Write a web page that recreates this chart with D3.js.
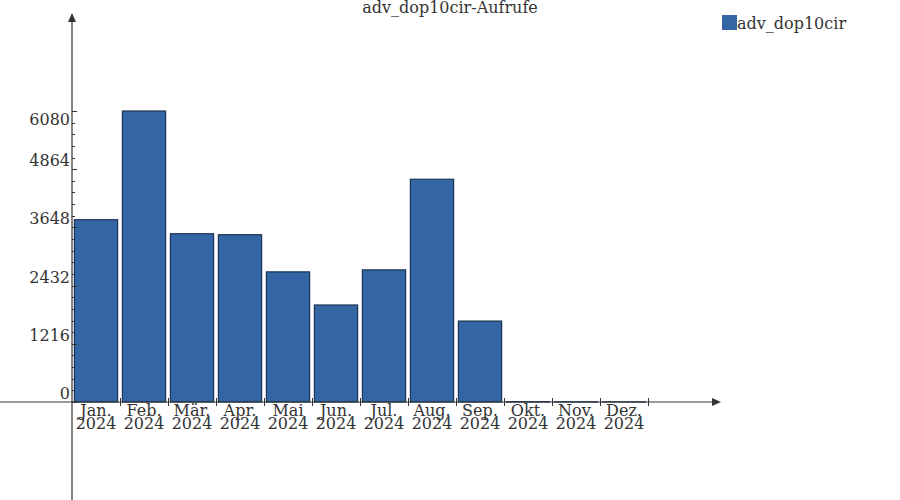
<!DOCTYPE html>
<html><head><meta charset="utf-8">
<script src="https://cdn.jsdelivr.net/npm/d3@7"></script>
<style>body{margin:0;background:#fff}svg{display:block}</style>
</head><body>
<svg id="c" width="900" height="500"></svg>
<script>
const months = ["Jan.","Feb.","Mär.","Apr.","Mai","Jun.","Jul.","Aug.","Sep.","Okt.","Nov.","Dez."];
const years = ["2024","2024","2024","2024","2024","2024","2024","2024","2024","2024","2024","2024"];
const values = [3809, 6080, 3516, 3495, 2719, 2027, 2761, 4654, 1691, 6, 4, 3];
const yTicks = [0, 1216, 2432, 3648, 4864, 6080];
const seriesName = "adv_dop10cir";
const title = "adv_dop10cir-Aufrufe";

const svg = d3.select("#c");
const font = "DejaVu Serif";
const ink = "#333333";
const x0 = 72, x1 = 648, yZero = 402, yMaxPx = 111;

const x = d3.scaleBand().domain(d3.range(months.length)).range([x0, x1]).paddingInner(0.1).paddingOuter(0.05);
const y = d3.scaleLinear().domain([0, 6080]).range([yZero, yMaxPx]);

// bars
svg.append("g").selectAll("rect").data(values).join("rect")
  .attr("x", (d,i) => x(i))
  .attr("width", x.bandwidth())
  .attr("y", d => y(d))
  .attr("height", d => yZero - y(d))
  .attr("fill", "#3465a4")
  .attr("stroke", "#1b3454")
  .attr("stroke-width", 1.2);

// y axis line + arrow
svg.append("line").attr("x1", x0).attr("x2", x0).attr("y1", 18).attr("y2", 500)
  .attr("stroke", ink).attr("stroke-width", 1.2);
svg.append("path").attr("d", `M${x0-4},22 L${x0},13 L${x0+4},22 Z`).attr("fill", ink);

// x axis line + arrow
svg.append("line").attr("x1", 0).attr("x2", 715).attr("y1", yZero).attr("y2", yZero)
  .attr("stroke", ink).attr("stroke-width", 1.2);
svg.append("path").attr("d", `M712,${yZero-4} L721,${yZero} L712,${yZero+4} Z`).attr("fill", ink);

// y ticks (major + minor)
const minor = d3.range(0, 6080, 1216/5).filter(v => !yTicks.includes(Math.round(v)));
svg.append("g").selectAll("line").data(minor).join("line")
  .attr("x1", x0).attr("x2", x0+3).attr("y1", d => Math.round(y(d))+0.5).attr("y2", d => Math.round(y(d))+0.5)
  .attr("stroke", ink).attr("stroke-width", 1);
svg.append("g").selectAll("line").data(yTicks).join("line")
  .attr("x1", x0).attr("x2", x0+5).attr("y1", d => Math.round(y(d))+0.5).attr("y2", d => Math.round(y(d))+0.5)
  .attr("stroke", ink).attr("stroke-width", 1);
svg.append("g").selectAll("text").data(yTicks).join("text")
  .attr("x", x0-2)
  .attr("y", (d,i) => i === yTicks.length-1 ? y(d)+14 : y(d)-3)
  .attr("text-anchor", "end")
  .attr("font-family", font).attr("font-size", 16).attr("fill", ink)
  .text(d => d);

// x ticks at band boundaries
const bounds = d3.range(1, months.length+1).map(i => x0 + i*(x1-x0)/months.length);
svg.append("g").selectAll("line").data(bounds).join("line")
  .attr("x1", d => Math.round(d)+0.5).attr("x2", d => Math.round(d)+0.5)
  .attr("y1", yZero-4).attr("y2", yZero+4)
  .attr("stroke", ink).attr("stroke-width", 1);

// x labels (two lines, tightly spaced as in the reference)
const xl = svg.append("g").selectAll("text").data(months).join("text")
  .attr("text-anchor", "middle")
  .attr("font-family", font).attr("font-size", 16).attr("fill", ink);
xl.append("tspan").attr("x", (d,i) => x(i) + x.bandwidth()/2).attr("y", 416).text(d => d);
xl.append("tspan").attr("x", (d,i) => x(i) + x.bandwidth()/2).attr("y", 429).text((d,i) => years[i]);

// title
svg.append("text").attr("x", 450).attr("y", 13).attr("text-anchor", "middle")
  .attr("font-family", font).attr("font-size", 16).attr("fill", ink).text(title);

// legend
svg.append("rect").attr("x", 722).attr("y", 15).attr("width", 15).attr("height", 15).attr("fill", "#3465a4");
svg.append("text").attr("x", 737).attr("y", 29).attr("font-family", font).attr("font-size", 16)
  .attr("fill", ink).text(seriesName);
</script>
</body></html>
